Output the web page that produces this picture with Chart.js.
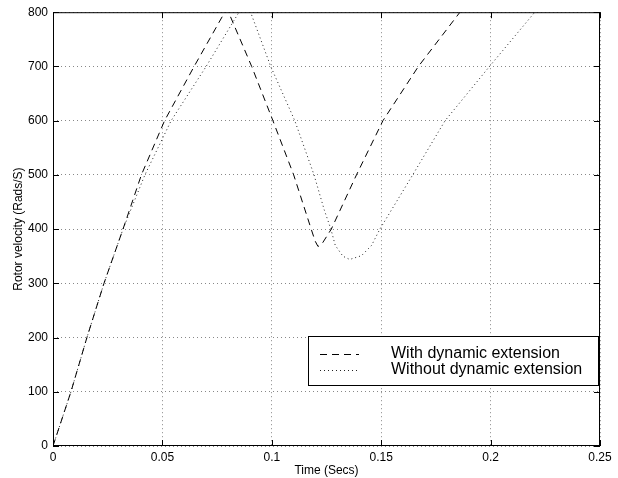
<!DOCTYPE html>
<html>
<head>
<meta charset="utf-8">
<script src="https://cdn.jsdelivr.net/npm/chart.js@4"></script>
<style>
  html, body { margin: 0; padding: 0; background: #fff; }
  #wrap { width: 618px; height: 478px; }
</style>
</head>
<body>
<div id="wrap"><canvas id="rotorChart" width="618" height="478"></canvas></div>
<script>
/* ===== Data ===== */
const timeWith = [0, 0.0082, 0.0155, 0.0233, 0.032, 0.0404, 0.051, 0.0645, 0.0785, 0.0797, 0.0908, 0.1005, 0.1100, 0.1180, 0.1198, 0.1211, 0.1228, 0.1250, 0.1272, 0.1387, 0.1508, 0.167, 0.186];
const velWith  = [0, 100, 200, 300, 400, 500, 600, 700, 800, 805, 700, 600, 500, 400, 378, 368, 372, 386, 400, 500, 600, 700, 800];

const timeWithout = [0, 0.0082, 0.0155, 0.0233, 0.032, 0.0420, 0.0540, 0.0700, 0.0850, 0.0878, 0.0903, 0.0995, 0.1105, 0.1193, 0.1240, 0.1270, 0.1290, 0.1325, 0.1356, 0.1410, 0.1456, 0.1494, 0.1644, 0.1792, 0.1995, 0.2202];
const velWithout  = [0, 100, 200, 300, 400, 500, 600, 700, 800, 808, 800, 700, 600, 500, 435, 400, 370, 350, 344, 351, 370, 400, 500, 600, 700, 800];

const xTicks = [0, 0.05, 0.1, 0.15, 0.2, 0.25];
const yTicks = [0, 100, 200, 300, 400, 500, 600, 700, 800];

const labelWith = 'With dynamic extension';
const labelWithout = 'Without dynamic extension';

const toPoints = (xs, ys) => xs.map((x, i) => ({ x: x, y: ys[i] }));

/* ===== Box, inward ticks and legend ===== */
const matlabFrame = {
  id: 'matlabFrame',
  afterDatasetsDraw(chart) {
    const { ctx, chartArea: a, scales: { x, y } } = chart;
    ctx.save();
    ctx.strokeStyle = '#000';
    ctx.lineWidth = 1;
    ctx.strokeRect(a.left + 0.5, a.top + 0.5, a.right - a.left - 1, a.bottom - a.top - 1);
    ctx.beginPath();
    xTicks.forEach(v => {
      const px = Math.round(x.getPixelForValue(v)) + 0.5;
      ctx.moveTo(px, a.bottom); ctx.lineTo(px, a.bottom - 6);
      ctx.moveTo(px, a.top); ctx.lineTo(px, a.top + 6);
    });
    yTicks.forEach(v => {
      const py = Math.round(y.getPixelForValue(v)) + 0.5;
      ctx.moveTo(a.left, py); ctx.lineTo(a.left + 6, py);
      ctx.moveTo(a.right, py); ctx.lineTo(a.right - 6, py);
    });
    ctx.stroke();

    // legend box
    const bx = 308.5, by = 336.5, bw = 290, bh = 49;
    ctx.fillStyle = '#fff';
    ctx.fillRect(bx, by, bw, bh);
    ctx.strokeRect(bx, by, bw, bh);
    chart.data.datasets.forEach((ds, i) => {
      const ly = 354 + i * 16;
      ctx.beginPath();
      ctx.setLineDash(ds.borderDash);
      ctx.strokeStyle = ds.borderColor;
      ctx.moveTo(320, ly + 0.5); ctx.lineTo(359, ly + 0.5);
      ctx.stroke();
      ctx.setLineDash([]);
      ctx.fillStyle = '#000';
      ctx.font = '16px "Liberation Sans", Arial, sans-serif';
      ctx.textBaseline = 'middle';
      ctx.fillText(ds.label, 391, ly);
    });
    ctx.restore();
  }
};

/* ===== Chart ===== */
const gridStyle = { color: '#888', lineWidth: 1, drawTicks: false };
const tickFont = { family: '"Liberation Sans", Arial, sans-serif', size: 12 };
const titleFont = { family: '"Liberation Sans", Arial, sans-serif', size: 12 };

new Chart(document.getElementById('rotorChart'), {
  type: 'line',
  data: {
    datasets: [
      {
        label: labelWith,
        data: toPoints(timeWith, velWith),
        borderColor: '#000',
        borderWidth: 1,
        borderDash: [7, 5],
        pointRadius: 0,
        tension: 0,
      },
      {
        label: labelWithout,
        data: toPoints(timeWithout, velWithout),
        borderColor: '#222',
        borderWidth: 1,
        borderDash: [1, 3],
        pointRadius: 0,
        tension: 0,
      },
    ],
  },
  options: {
    responsive: false,
    animation: false,
    layout: { padding: { top: 12, right: 18, left: 0, bottom: 0 } },
    plugins: { legend: { display: false }, tooltip: { enabled: false } },
    scales: {
      x: {
        type: 'linear',
        min: 0, max: 0.25,
        afterBuildTicks: s => { s.ticks = xTicks.map(v => ({ value: v })); },
        afterFit: s => { s.height = 32; },
        grid: gridStyle,
        border: { display: false, dash: [1, 3] },
        ticks: { color: '#000', font: tickFont, padding: 4, maxRotation: 0, callback: v => String(v) },
        title: { display: true, text: 'Time (Secs)', color: '#000', font: titleFont, padding: { top: 0, bottom: 0 } },
      },
      y: {
        min: 0, max: 800,
        afterBuildTicks: s => { s.ticks = yTicks.map(v => ({ value: v })); },
        afterFit: s => { s.width = 53; },
        grid: gridStyle,
        border: { display: false, dash: [1, 3] },
        ticks: { color: '#000', font: tickFont, padding: 5 },
        title: { display: true, text: 'Rotor velocity (Rads/S)', color: '#000', font: titleFont, padding: { top: 11, bottom: 0 } },
      },
    },
  },
  plugins: [matlabFrame],
});
</script>
</body>
</html>
